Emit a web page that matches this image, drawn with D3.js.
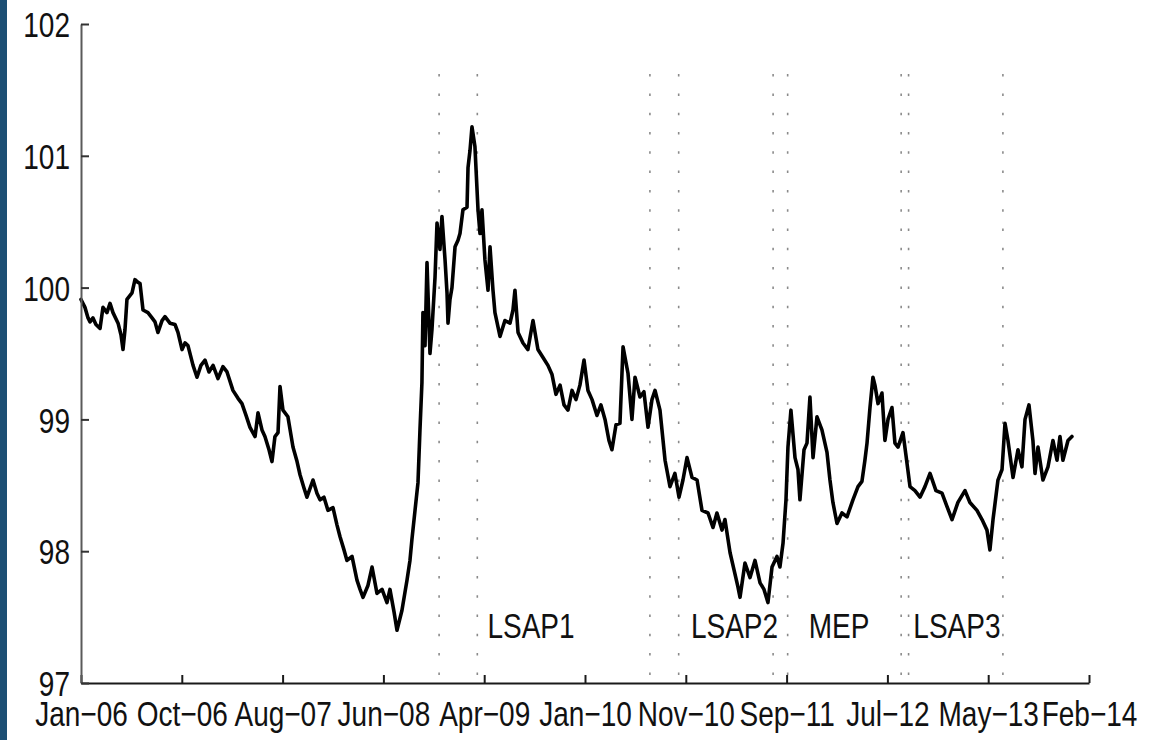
<!DOCTYPE html>
<html>
<head>
<meta charset="utf-8">
<script src="https://cdn.jsdelivr.net/npm/d3@7"></script>
<style>
  html, body { margin: 0; padding: 0; background: #fff; }
  svg { display: block; }
  text { font-family: "Liberation Sans", Arial, Helvetica, sans-serif; fill: #111; }
</style>
</head>
<body>
<svg id="chart" width="1162" height="740"></svg>
<script>
// Index level, weekly-ish observations (time in decimal years)
const obsYear = [
  2006.000, 2006.032, 2006.057, 2006.073, 2006.097, 2006.121, 2006.154, 2006.178, 2006.210, 2006.235,
  2006.259, 2006.300, 2006.324, 2006.340, 2006.356, 2006.372, 2006.413, 2006.437, 2006.461, 2006.478,
  2006.502, 2006.542, 2006.575, 2006.599, 2006.623, 2006.656, 2006.680, 2006.720, 2006.761, 2006.785,
  2006.818, 2006.842, 2006.866, 2006.907, 2006.939, 2006.971, 2007.004, 2007.036, 2007.069, 2007.109,
  2007.149, 2007.182, 2007.230, 2007.271, 2007.303, 2007.336, 2007.368, 2007.409, 2007.433, 2007.465,
  2007.489, 2007.522, 2007.546, 2007.570, 2007.595, 2007.611, 2007.635, 2007.675, 2007.716, 2007.749,
  2007.773, 2007.805, 2007.829, 2007.878, 2007.910, 2007.935, 2007.967, 2007.999, 2008.040, 2008.072,
  2008.097, 2008.129, 2008.153, 2008.194, 2008.234, 2008.259, 2008.283, 2008.323, 2008.356, 2008.396,
  2008.437, 2008.477, 2008.501, 2008.534, 2008.558, 2008.598, 2008.623, 2008.639, 2008.663, 2008.679,
  2008.704, 2008.728, 2008.744, 2008.760, 2008.768, 2008.785, 2008.801, 2008.825, 2008.841, 2008.866,
  2008.882, 2008.906, 2008.922, 2008.947, 2008.963, 2008.971, 2008.987, 2009.003, 2009.028, 2009.052,
  2009.068, 2009.092, 2009.125, 2009.133, 2009.149, 2009.165, 2009.189, 2009.214, 2009.230, 2009.246,
  2009.270, 2009.295, 2009.311, 2009.335, 2009.351, 2009.392, 2009.432, 2009.473, 2009.497, 2009.513,
  2009.538, 2009.578, 2009.618, 2009.659, 2009.699, 2009.740, 2009.780, 2009.813, 2009.845, 2009.878,
  2009.910, 2009.942, 2009.975, 2010.007, 2010.039, 2010.072, 2010.104, 2010.137, 2010.177, 2010.209,
  2010.242, 2010.274, 2010.298, 2010.331, 2010.363, 2010.388, 2010.428, 2010.460, 2010.485, 2010.525,
  2010.557, 2010.590, 2010.622, 2010.647, 2010.687, 2010.728, 2010.768, 2010.808, 2010.841, 2010.873,
  2010.906, 2010.946, 2010.987, 2011.027, 2011.076, 2011.116, 2011.148, 2011.189, 2011.213, 2011.254,
  2011.286, 2011.318, 2011.335, 2011.375, 2011.416, 2011.456, 2011.497, 2011.529, 2011.561, 2011.594,
  2011.634, 2011.658, 2011.683, 2011.707, 2011.723, 2011.747, 2011.780, 2011.804, 2011.820, 2011.853,
  2011.877, 2011.901, 2011.926, 2011.958, 2011.998, 2012.039, 2012.063, 2012.087, 2012.120, 2012.160,
  2012.201, 2012.249, 2012.290, 2012.322, 2012.346, 2012.363, 2012.387, 2012.411, 2012.427, 2012.452,
  2012.484, 2012.508, 2012.533, 2012.565, 2012.589, 2012.614, 2012.654, 2012.678, 2012.711, 2012.751,
  2012.792, 2012.832, 2012.873, 2012.921, 2012.970, 2013.010, 2013.051, 2013.099, 2013.156, 2013.196,
  2013.253, 2013.294, 2013.334, 2013.358, 2013.383, 2013.423, 2013.456, 2013.480, 2013.504, 2013.545,
  2013.585, 2013.617, 2013.642, 2013.674, 2013.706, 2013.723, 2013.747, 2013.787, 2013.828, 2013.868,
  2013.901, 2013.925, 2013.949, 2013.990, 2014.022
];

const indexLevel = [
  99.91, 99.85, 99.77, 99.74, 99.77, 99.72, 99.69, 99.85, 99.81, 99.88,
  99.81, 99.73, 99.64, 99.53, 99.68, 99.91, 99.96, 100.06, 100.04, 100.03,
  99.83, 99.81, 99.77, 99.74, 99.66, 99.75, 99.78, 99.73, 99.72, 99.66,
  99.53, 99.58, 99.56, 99.41, 99.32, 99.41, 99.45, 99.36, 99.41, 99.31,
  99.40, 99.36, 99.22, 99.16, 99.12, 99.03, 98.94, 98.87, 99.05, 98.92,
  98.87, 98.77, 98.68, 98.87, 98.90, 99.25, 99.07, 99.02, 98.79, 98.68,
  98.58, 98.48, 98.41, 98.54, 98.44, 98.39, 98.41, 98.31, 98.33, 98.20,
  98.11, 98.01, 97.93, 97.96, 97.78, 97.71, 97.65, 97.74, 97.88, 97.68,
  97.71, 97.61, 97.71, 97.54, 97.40, 97.55, 97.69, 97.78, 97.93, 98.09,
  98.31, 98.52, 98.92, 99.28, 99.81, 99.56, 100.19, 99.50, 99.68, 100.08,
  100.49, 100.29, 100.54, 100.21, 99.96, 99.73, 99.91, 100.00, 100.31, 100.36,
  100.41, 100.59, 100.61, 100.91, 101.04, 101.22, 101.07, 100.59, 100.41, 100.59,
  100.21, 99.98, 100.31, 99.98, 99.81, 99.63, 99.75, 99.73, 99.83, 99.98,
  99.66, 99.58, 99.53, 99.75, 99.53, 99.47, 99.41, 99.34, 99.19, 99.26,
  99.11, 99.07, 99.22, 99.15, 99.26, 99.45, 99.22, 99.15, 99.03, 99.11,
  99.00, 98.84, 98.77, 98.96, 98.97, 99.55, 99.35, 99.00, 99.32, 99.17,
  99.21, 98.94, 99.15, 99.22, 99.07, 98.69, 98.49, 98.59, 98.41, 98.54,
  98.71, 98.56, 98.54, 98.31, 98.29, 98.18, 98.29, 98.16, 98.24, 97.99,
  97.86, 97.73, 97.65, 97.91, 97.80, 97.93, 97.76, 97.71, 97.61, 97.88,
  97.96, 97.88, 98.06, 98.39, 98.79, 99.07, 98.71, 98.62, 98.39, 98.77,
  98.82, 99.17, 98.71, 99.02, 98.92, 98.75, 98.54, 98.37, 98.21, 98.29,
  98.26, 98.39, 98.49, 98.53, 98.69, 98.82, 99.09, 99.32, 99.26, 99.12,
  99.20, 98.84, 99.00, 99.09, 98.82, 98.79, 98.90, 98.73, 98.49, 98.46,
  98.41, 98.49, 98.59, 98.46, 98.44, 98.34, 98.24, 98.37, 98.46, 98.37,
  98.31, 98.24, 98.16, 98.01, 98.24, 98.54, 98.62, 98.97, 98.84, 98.56,
  98.77, 98.64, 99.00, 99.11, 98.84, 98.59, 98.79, 98.54, 98.64, 98.84,
  98.69, 98.87, 98.69, 98.84, 98.87
];

// Policy announcement dates (dotted verticals)
const eventDates = [
  "2008-11-25", "2009-03-18",
  "2010-08-10", "2010-11-03",
  "2011-08-09", "2011-09-21",
  "2012-08-22", "2012-09-13",
  "2013-06-19"
];

// Programme names and where they sit along the time axis
const programNames = ["LSAP1", "LSAP2", "MEP", "LSAP3"];
const programYear = [2009.643, 2011.290, 2012.136, 2013.091];

// Axis ticks
const yTicks = [97, 98, 99, 100, 101, 102];
const xTickLabels = ["Jan\u221206", "Oct\u221206", "Aug\u221207", "Jun\u221208", "Apr\u221209",
                     "Jan\u221210", "Nov\u221210", "Sep\u221211", "Jul\u221212", "May\u221213", "Feb\u221214"];
const xSpan = [2006.0, 2014.16];

// ---- drawing ----
const svg = d3.select("#chart");
const plotLeft = 81, plotRight = 1089, plotTop = 24, plotBottom = 683;
const FONT = 35, SQUEEZE = 0.8;

const x = d3.scaleLinear().domain(xSpan).range([plotLeft, plotRight]);
const y = d3.scaleLinear().domain([97, 102]).range([plotBottom, plotTop]);

function toYear(s) {
  const d = new Date(s + "T00:00:00Z");
  const y0 = Date.UTC(d.getUTCFullYear(), 0, 1);
  const y1 = Date.UTC(d.getUTCFullYear() + 1, 0, 1);
  return d.getUTCFullYear() + (d - y0) / (y1 - y0);
}

// left page stripe
svg.append("rect").attr("x", 0).attr("y", 0).attr("width", 7).attr("height", 740)
  .attr("fill", "#1d4f74");

// dotted event lines
svg.append("g").selectAll("line").data(eventDates).join("line")
  .attr("x1", d => x(toYear(d))).attr("x2", d => x(toYear(d)))
  .attr("y1", y(101.62)).attr("y2", plotBottom)
  .attr("stroke", "#8a8a8a").attr("stroke-width", 1.6)
  .attr("stroke-dasharray", "2.5,16.8");

// series
const series = obsYear.map((t, i) => ({ t, v: indexLevel[i] }));
svg.append("path").datum(series)
  .attr("fill", "none").attr("stroke", "#000").attr("stroke-width", 3.6)
  .attr("stroke-linejoin", "round").attr("stroke-linecap", "round")
  .attr("d", d3.line().x(d => x(d.t)).y(d => y(d.v)));

// x axis
const xTickVals = xTickLabels.map((_, i) => xSpan[0] + i * (xSpan[1] - xSpan[0]) / (xTickLabels.length - 1));
const gx = svg.append("g").attr("transform", `translate(0,${plotBottom})`)
  .call(d3.axisBottom(x).tickValues(xTickVals).tickFormat((d, i) => xTickLabels[i])
    .tickSizeInner(-8).tickSizeOuter(0));
gx.select(".domain").attr("stroke", "#1a1a1a").attr("stroke-width", 2);
gx.selectAll(".tick line").attr("stroke", "#1a1a1a").attr("stroke-width", 2);
gx.selectAll(".tick text")
  .attr("x", 0).attr("y", 0).attr("dy", 0)
  .attr("transform", `translate(0,43) scale(${SQUEEZE},1)`)
  .attr("font-size", FONT).attr("font-family", "Liberation Sans, Arial, sans-serif")
  .attr("fill", "#111").attr("text-anchor", "middle");

// y axis
const gy = svg.append("g").attr("transform", `translate(${plotLeft},0)`)
  .call(d3.axisLeft(y).tickValues(yTicks).tickFormat(d3.format("d"))
    .tickSizeInner(-8).tickSizeOuter(0));
gy.select(".domain").attr("stroke", "#5a5a5a").attr("stroke-width", 2);
gy.selectAll(".tick line").attr("stroke", "#333").attr("stroke-width", 2);
gy.selectAll(".tick text")
  .attr("x", 0).attr("dy", "0.36em")
  .attr("transform", `translate(-11,0) scale(${SQUEEZE},1)`)
  .attr("font-size", FONT).attr("font-family", "Liberation Sans, Arial, sans-serif")
  .attr("fill", "#111").attr("text-anchor", "end");

// programme labels
svg.append("g").selectAll("text").data(programNames).join("text")
  .attr("transform", (d, i) => `translate(${x(programYear[i])},${plotBottom - 45}) scale(${SQUEEZE},1)`)
  .attr("text-anchor", "middle")
  .attr("font-size", FONT)
  .text(d => d);
</script>
</body>
</html>
